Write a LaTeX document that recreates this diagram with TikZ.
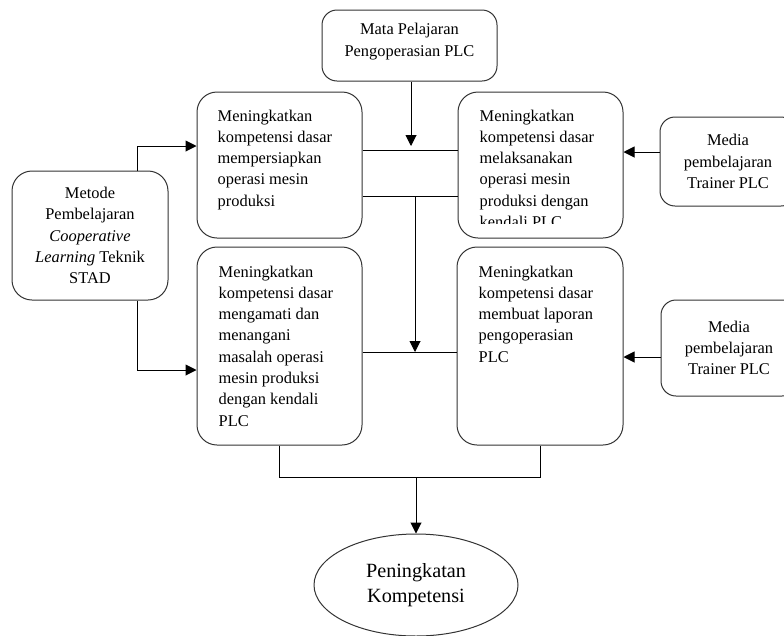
\documentclass[tikz,border=0pt]{standalone}
\usepackage{fontspec}
\setmainfont{Liberation Serif}
\usetikzlibrary{arrows.meta,calc,shapes.geometric}

\begin{document}
\begin{tikzpicture}[x=1pt,y=-1pt,
    kotak/.style={draw=black!80,line width=1pt,rounded corners=20pt,inner sep=0pt},
    isi/.style={anchor=north west,align=left,inner sep=0pt,font=\fontsize{16.4}{21.3}\selectfont},
    tengah/.style={align=center,font=\fontsize{16.4}{21.3}\selectfont},
    media/.style={kotak,tengah,rounded corners=15pt,minimum width=136pt},
    garis/.style={line width=1pt},
    panah/.style={garis,-{Triangle[length=11pt,width=11pt]}}]
  \useasboundingbox (0,0) rectangle (784,635);
  \clip (0,0) rectangle (784,635);

  \node[kotak,rounded corners=15pt,minimum width=175pt,minimum height=71pt] (mapel) at (409.5,45.5) {};
  \node[tengah,inner sep=0pt] (mapelt) at ($(mapel)+(0,-4)$) {Mata Pelajaran\\Pengoperasian PLC};

  \node[kotak,minimum width=165pt,minimum height=146pt] (k1) at (279.5,165) {};
  \node[isi] (k1t) at ($(k1.north west)+(21,18)$) {Meningkatkan\\kompetensi dasar\\mempersiapkan\\operasi mesin\\produksi};

  \node[kotak,minimum width=165pt,minimum height=146pt] (k2) at (540.5,165) {};
  \begin{scope}
    \clip (k2.north west) rectangle ($(k2.south east)+(0,-15)$);
    \node[isi] (k2t) at ($(k2.north west)+(22,18)$) {Meningkatkan\\kompetensi dasar\\melaksanakan\\operasi mesin\\produksi dengan\\kendali PLC};
  \end{scope}

  \node[kotak,minimum width=165pt,minimum height=198pt] (k3) at (279.5,346) {};
  \node[isi] (k3t) at ($(k3.north west)+(22,19)$) {Meningkatkan\\kompetensi dasar\\mengamati dan\\menangani\\masalah operasi\\mesin produksi\\dengan kendali\\PLC};

  \node[kotak,minimum width=166pt,minimum height=198pt] (k4) at (540,346) {};
  \node[isi] (k4t) at ($(k4.north west)+(22,19)$) {Meningkatkan\\kompetensi dasar\\membuat laporan\\pengoperasian\\PLC};

  \node[kotak,tengah,minimum width=156pt,minimum height=129pt] (metode) at (90,235.5) {Metode\\Pembelajaran\\\textit{Cooperative}\\\textit{Learning} Teknik\\STAD};

  \node[media,minimum height=89pt] (media1) at (728,161.5) {Media\\pembelajaran\\Trainer PLC};
  \node[media,minimum height=96pt] (media2) at (729,348) {Media\\pembelajaran\\Trainer PLC};

  \node[draw=black!80,line width=1pt,ellipse,minimum width=204pt,minimum height=102pt,inner sep=0pt,align=center,font=\fontsize{20.2}{25}\selectfont] (hasil) at (416,585) {Peningkatan\\Kompetensi};

  \coordinate (a1) at (411,146);
  \coordinate (h1) at (0,150);
  \coordinate (h2) at (415,196);
  \coordinate (h3) at (415,352);
  \coordinate (m1) at (137,146);
  \coordinate (m2) at (137,370);
  \coordinate (r1) at (0,152);
  \coordinate (r2) at (0,357);
  \coordinate (b1) at (0,477);

  \draw[panah] (mapel.south -| a1) -- (a1);
  \draw[garis] (k1.east |- h1) -- (k2.west |- h1);
  \draw[garis] (k1.east |- h2) -- (k2.west |- h2);
  \draw[panah] (h2) -- (h3);
  \draw[garis] (k3.east |- h3) -- (k4.west |- h3);

  \draw[panah] (metode.north -| m1) |- (k1.west |- m1);
  \draw[panah] (metode.south -| m2) |- (k3.west |- m2);

  \draw[panah] (media1.west |- r1) -- (k2.east |- r1);
  \draw[panah] (media2.west |- r2) -- (k4.east |- r2);

  \draw[garis] (k3.south) -- (k3.south |- b1) -- (k4.south |- b1) -- (k4.south);
  \draw[panah] (hasil.north |- b1) -- (hasil.north);
\end{tikzpicture}
\end{document}
